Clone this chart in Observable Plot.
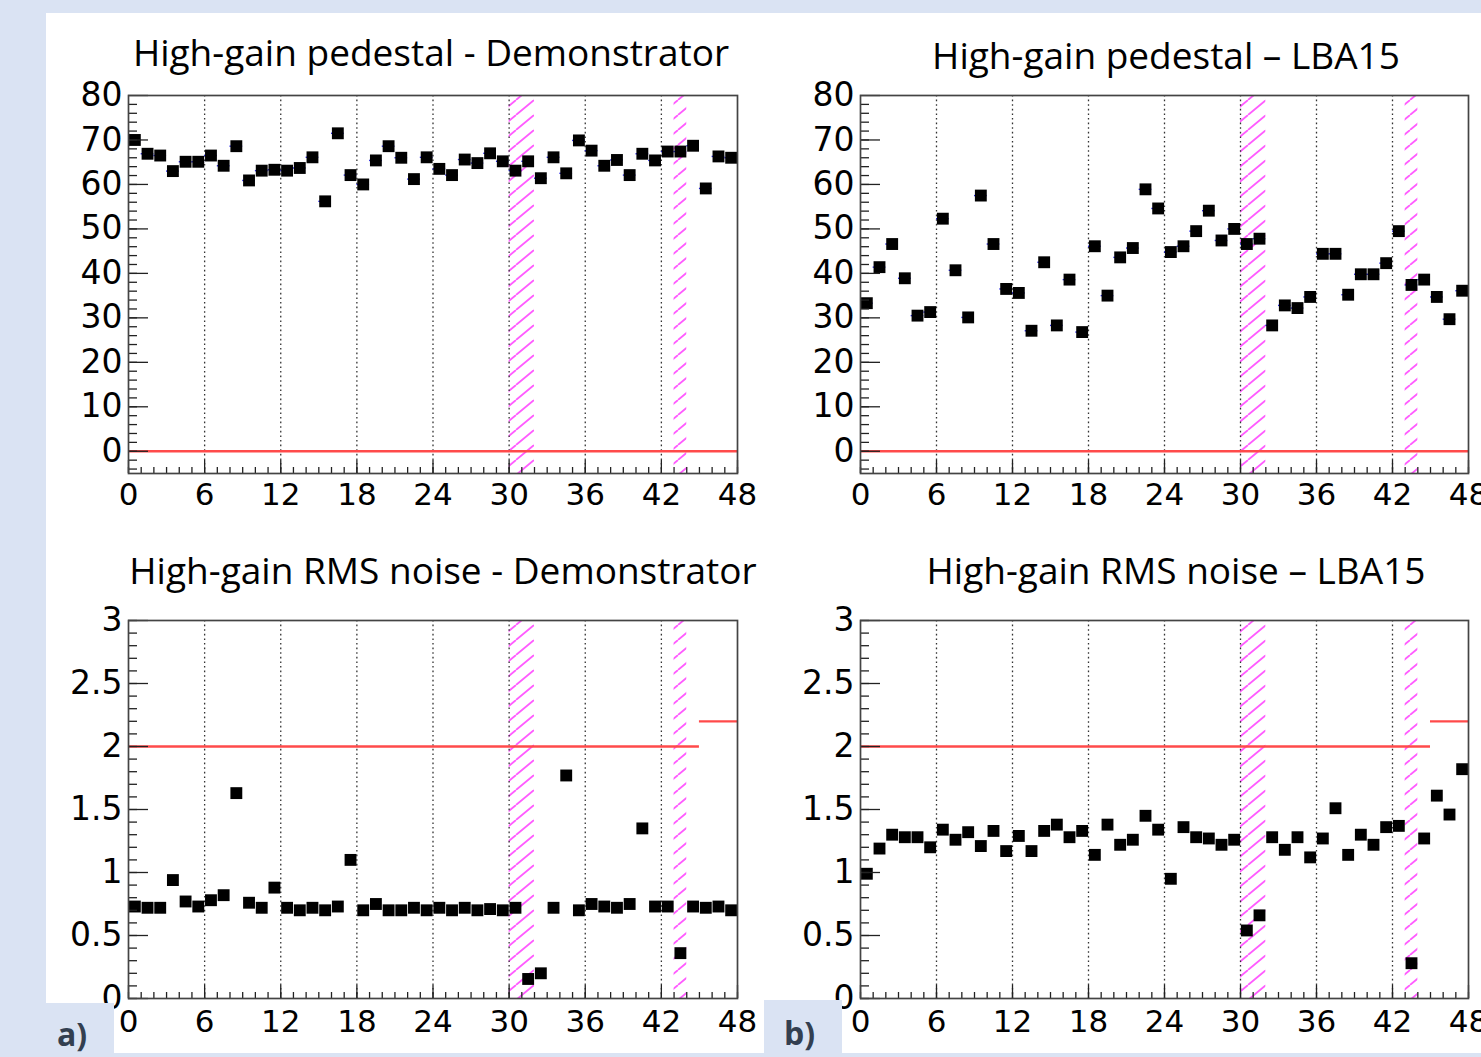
<!DOCTYPE html>
<html><head><meta charset="utf-8">
<script src="https://cdn.jsdelivr.net/npm/d3@7"></script>
<script src="https://cdn.jsdelivr.net/npm/@observablehq/plot@0.6"></script>
<style>
html,body{margin:0;padding:0;}
body{width:1481px;height:1057px;overflow:hidden;background:#dae3f3;position:relative;}
#paper{position:absolute;left:46px;top:13px;width:1435px;height:1040px;background:#fff;}
.panel{position:absolute;}
.panel svg{overflow:visible;display:block;max-width:none !important;}
.title{position:absolute;font-family:"Open Sans",sans-serif;font-size:37px;color:#000;white-space:nowrap;transform:translate(-50%,-50%);line-height:1.2;}
.tag{position:absolute;background:#dae3f3;font-family:"Open Sans",sans-serif;font-weight:700;font-size:32px;color:#333f50;box-sizing:border-box;line-height:1;}
</style></head><body>
<div id="paper"></div>
<div id="charts"></div>
<script>
// ---- data ----
const channels = d3.range(48);
const pedDemo = [70.0, 66.9, 66.5, 63.0, 65.1, 65.1, 66.5, 64.2, 68.6, 60.9, 63.1, 63.3, 63.1, 63.7, 66.1, 56.2, 71.5, 62.1, 60.0, 65.4, 68.6, 66.0, 61.2, 66.1, 63.5, 62.1, 65.6, 64.8, 67.0, 65.2, 63.1, 65.2, 61.4, 66.1, 62.5, 69.9, 67.6, 64.2, 65.5, 62.1, 66.9, 65.4, 67.4, 67.4, 68.7, 59.1, 66.3, 66.0];
const pedLBA = [33.3, 41.4, 46.6, 38.9, 30.5, 31.3, 52.3, 40.7, 30.1, 57.5, 46.6, 36.5, 35.6, 27.1, 42.5, 28.3, 38.6, 26.8, 46.1, 35.0, 43.6, 45.7, 58.9, 54.6, 44.8, 46.1, 49.5, 54.1, 47.4, 50.0, 46.6, 47.8, 28.3, 32.8, 32.2, 34.7, 44.4, 44.4, 35.2, 39.8, 39.8, 42.3, 49.5, 37.4, 38.6, 34.7, 29.7, 36.1];
const noiseDemo = [0.73, 0.72, 0.72, 0.94, 0.77, 0.73, 0.78, 0.82, 1.63, 0.76, 0.72, 0.88, 0.72, 0.70, 0.72, 0.70, 0.73, 1.10, 0.70, 0.75, 0.70, 0.70, 0.72, 0.70, 0.72, 0.70, 0.72, 0.70, 0.71, 0.70, 0.72, 0.155, 0.20, 0.72, 1.77, 0.70, 0.75, 0.73, 0.72, 0.75, 1.35, 0.73, 0.73, 0.36, 0.73, 0.72, 0.73, 0.70];
const noiseLBA = [0.99, 1.19, 1.30, 1.28, 1.28, 1.20, 1.34, 1.26, 1.32, 1.21, 1.33, 1.17, 1.29, 1.17, 1.33, 1.38, 1.28, 1.33, 1.14, 1.38, 1.22, 1.26, 1.45, 1.34, 0.95, 1.36, 1.28, 1.27, 1.22, 1.26, 0.54, 0.66, 1.28, 1.18, 1.28, 1.12, 1.27, 1.51, 1.14, 1.30, 1.22, 1.36, 1.37, 0.28, 1.27, 1.61, 1.46, 1.82];

const xMajor = [0, 6, 12, 18, 24, 30, 36, 42, 48];
const xMinor = d3.range(0, 49, 1);
const xGrid = [6, 12, 18, 24, 30, 36, 42];
const badBands = [{x1: 30, x2: 32}, {x1: 43, x2: 44}];
const pedYMajor = [0, 10, 20, 30, 40, 50, 60, 70, 80];
const pedYMinor = d3.range(-4, 80, 2);
const noiseYMajor = [0, 0.5, 1, 1.5, 2, 2.5, 3];
const noiseYMinor = d3.range(0, 31, 1).map(d => d / 10);
const noiseYLabels = ["0", "0.5", "1", "1.5", "2", "2.5", "3"];
const pedLimit = [{x1: 0, x2: 48, y: 0}];
const noiseLimit = [{x1: 0, x2: 45, y: 2}, {x1: 45, x2: 48, y: 2.2}];
const titles = ["High-gain pedestal - Demonstrator", "High-gain pedestal \u2013 LBA15", "High-gain RMS noise - Demonstrator", "High-gain RMS noise \u2013 LBA15"];
const tags = ["a)", "b)"];

// ---- drawing ----
const charts = document.getElementById("charts");
function panel({values, yDomain, yMajor, yMinor, yFormat, limits, showErr, left, top, fw, xLabelGap, id}) {
  const mL = 80, mR = 30, mT = 10, mB = 55, fh = 378;
  const data = channels.map((c, i) => ({ch: c, v: values[i]}));
  const plot = Plot.plot({
    width: mL + fw + mR, height: mT + fh + mB,
    marginLeft: mL, marginRight: mR, marginTop: mT, marginBottom: mB,
    x: {domain: [0, 48]},
    y: {domain: yDomain},
    style: {background: "transparent", overflow: "visible", fontFamily: "'DejaVu Sans', sans-serif", color: "#000", maxWidth: "none"},
    marks: [
      Plot.rect(badBands, {x1: "x1", x2: "x2", fill: `url(#${id})`}),
      Plot.ruleX(xGrid, {stroke: "#333", strokeDasharray: "1.6,3", strokeWidth: 1.3}),
      Plot.ruleY(limits, {x1: "x1", x2: "x2", y: "y", stroke: "#ff4a4a", strokeWidth: 2.3}),
      showErr ? Plot.ruleY(data, {x1: d => d.ch, x2: d => d.ch + 1, y: "v", stroke: "#2626e8", strokeWidth: 1.4}) : null,
      Plot.dot(data, {x: d => d.ch + 0.5, y: "v", symbol: "square", r: 6.7, fill: "#000"}),
      Plot.axisX(xMinor, {tickSize: -6, tickFormat: () => "", label: null, stroke: "#222", strokeWidth: 1.3}),
      Plot.axisX(xMajor, {tickSize: -13, tickPadding: 13 + xLabelGap, fontSize: 31, label: null, stroke: "#222", strokeWidth: 1.3, fill: "#000"}),
      Plot.axisY(yMinor, {tickSize: -9, tickFormat: () => "", label: null, stroke: "#222", strokeWidth: 1.3}),
      Plot.axisY(yMajor, {tickSize: -20, tickPadding: 26, fontSize: 33, tickFormat: yFormat, label: null, stroke: "#222", strokeWidth: 1.3, fill: "#000"}),
      Plot.frame({stroke: "#444", strokeWidth: 1.7})
    ]
  });
  const defs = d3.select(plot).insert("defs", ":first-child");
  const pat = defs.append("pattern").attr("id", id).attr("patternUnits", "userSpaceOnUse").attr("width", 18).attr("height", 15);
  pat.append("path").attr("d", "M-18,15L0,0M0,15L18,0M18,15L36,0").attr("stroke", "#ff5cff").attr("stroke-width", 1.8).attr("fill", "none");
  const div = document.createElement("div");
  div.className = "panel";
  div.style.left = (left - mL) + "px";
  div.style.top = (top - mT) + "px";
  div.style.width = (mL + fw + mR) + "px";
  div.appendChild(plot);
  charts.appendChild(div);
}

panel({values: pedDemo, yDomain: [-5, 80], yMajor: pedYMajor, yMinor: pedYMinor, yFormat: d => String(d), limits: pedLimit, showErr: true, left: 128, top: 95, fw: 609, xLabelGap: 9, id: "hatch1"});
panel({values: pedLBA, yDomain: [-5, 80], yMajor: pedYMajor, yMinor: pedYMinor, yFormat: d => String(d), limits: pedLimit, showErr: true, left: 860, top: 95, fw: 608, xLabelGap: 9, id: "hatch2"});
panel({values: noiseDemo, yDomain: [0, 3], yMajor: noiseYMajor, yMinor: noiseYMinor, yFormat: (d, i) => noiseYLabels[i], limits: noiseLimit, showErr: false, left: 128, top: 620, fw: 609, xLabelGap: 11, id: "hatch3"});
panel({values: noiseLBA, yDomain: [0, 3], yMajor: noiseYMajor, yMinor: noiseYMinor, yFormat: (d, i) => noiseYLabels[i], limits: noiseLimit, showErr: false, left: 860, top: 620, fw: 608, xLabelGap: 11, id: "hatch4"});

const titlePos = [[431, 52], [1166, 55], [443, 570], [1176, 570]];
titles.forEach((t, i) => {
  const d = document.createElement("div");
  d.className = "title";
  d.textContent = t;
  d.style.left = titlePos[i][0] + "px";
  d.style.top = titlePos[i][1] + "px";
  document.body.appendChild(d);
});
const tagBoxes = [{left: 46, top: 1003, width: 68, height: 54, pad: 11, padTop: 15}, {left: 764, top: 1000, width: 78, height: 57, pad: 20, padTop: 17}];
tags.forEach((t, i) => {
  const b = tagBoxes[i];
  const d = document.createElement("div");
  d.className = "tag";
  d.textContent = t;
  Object.assign(d.style, {left: b.left + "px", top: b.top + "px", width: b.width + "px", height: b.height + "px", paddingLeft: b.pad + "px", paddingTop: b.padTop + "px"});
  document.body.appendChild(d);
});
</script>
</body></html>
